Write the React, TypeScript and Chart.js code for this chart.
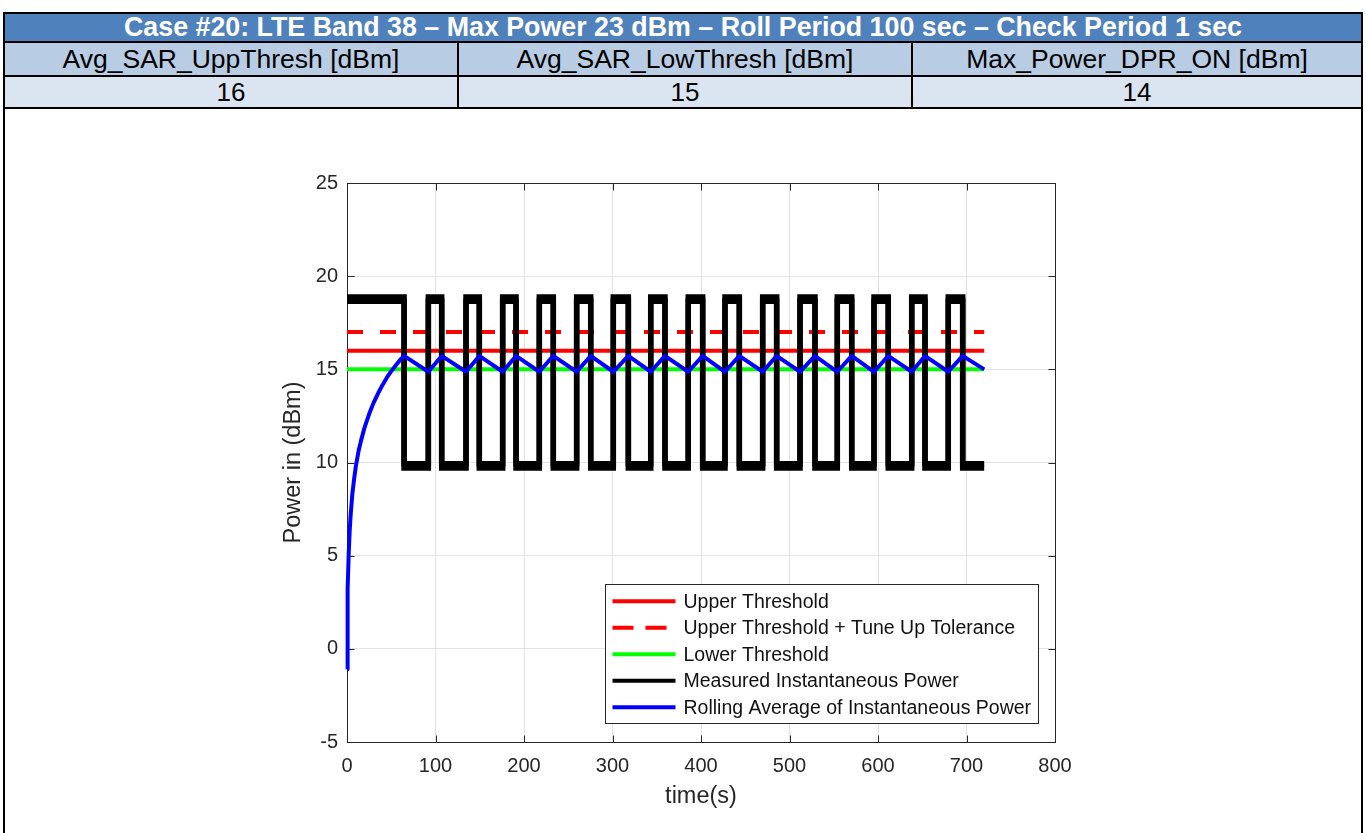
import React, { useEffect, useRef } from "react";
import { Chart, registerables } from "chart.js";

Chart.register(...registerables);

// ---------------- header table ----------------
const TABLE_TITLE =
  "Case #20: LTE Band 38 – Max Power 23 dBm – Roll Period 100 sec – Check Period 1 sec";
const PARAM_NAMES = ["Avg_SAR_UppThresh [dBm]", "Avg_SAR_LowThresh [dBm]", "Max_Power_DPR_ON [dBm]"];
const PARAM_VALUES = ["16", "15", "14"];

// ---------------- axes ----------------
const X_TICKS = [0, 100, 200, 300, 400, 500, 600, 700, 800];
const Y_TICKS = [-5, 0, 5, 10, 15, 20, 25];
const X_LABEL = "time(s)";
const Y_LABEL = "Power in (dBm)";

// ---------------- series ----------------
const END_TIME = 720;
const UPPER_THRESHOLD = 16;
const TUNE_UP_LEVEL = 17;
const LOWER_THRESHOLD = 15;

// measured instantaneous power: square wave, high / low levels (noise band edges)
const POWER_DROP_TIMES = [64.5, 107.0, 149.5, 191.0, 233.1, 275.4, 317.9, 359.3, 401.9, 443.3, 485.5, 528.8, 570.3, 611.6, 653.1, 695.7];
const POWER_RISE_TIMES = [91.9, 134.5, 175.9, 217.3, 259.5, 300.9, 343.2, 385.6, 427.1, 469.7, 511.9, 554.0, 595.5, 638.1, 679.4];
const POWER_HIGH_BAND = [18.66, 18.88];
const POWER_LOW_BAND = [9.7, 9.93];

// rolling average
const AVG_RAMP_TIMES = [0, 0.4, 1, 2, 3, 4, 6, 8, 10, 13, 16, 20, 25, 30, 35, 40, 45, 50, 55, 60];
const AVG_RAMP_VALUES = [-1.1, 1.2, 3.2, 5.2, 6.3, 7.1, 8.3, 9.1, 9.8, 10.6, 11.2, 11.9, 12.6, 13.2, 13.7, 14.15, 14.55, 14.9, 15.2, 15.5];
const AVG_PEAK_VALUE = 15.72;
const AVG_TROUGH_VALUE = 14.87;
const AVG_END_VALUE = 15.0;

const LEGEND_LABELS = [
  "Upper Threshold",
  "Upper Threshold + Tune Up Tolerance",
  "Lower Threshold",
  "Measured Instantaneous Power",
  "Rolling Average of Instantaneous Power",
];

const FONT = '"Liberation Sans", Arial, Helvetica, sans-serif';
const AXIS_COLOR = "#262626";

type Pt = { x: number; y: number };

function transitions() {
  return [
    ...POWER_DROP_TIMES.map((t) => ({ t, up: false })),
    ...POWER_RISE_TIMES.map((t) => ({ t, up: true })),
  ].sort((a, b) => a.t - b.t);
}

function powerTrace(high: number, low: number): Pt[] {
  const pts: Pt[] = [{ x: 0, y: high }];
  for (const e of transitions()) {
    pts.push({ x: e.t, y: e.up ? low : high });
    pts.push({ x: e.t, y: e.up ? high : low });
  }
  pts.push({ x: END_TIME, y: low });
  return pts;
}

function averageTrace(): Pt[] {
  const pts: Pt[] = AVG_RAMP_TIMES.map((t, i) => ({ x: t, y: AVG_RAMP_VALUES[i] }));
  for (const e of transitions()) {
    pts.push({ x: e.t, y: e.up ? AVG_TROUGH_VALUE : AVG_PEAK_VALUE });
  }
  pts.push({ x: END_TIME, y: AVG_END_VALUE });
  return pts;
}

const flat = (v: number): Pt[] => [
  { x: 0, y: v },
  { x: END_TIME, y: v },
];

const boxTicksPlugin = {
  id: "boxTicks",
  beforeDatasetsDraw(chart: any) {
    const { ctx, chartArea, scales } = chart;
    const l = Math.round(chartArea.left) + 0.5;
    const r = Math.round(chartArea.right) + 0.5;
    const t = Math.round(chartArea.top) + 0.5;
    const b = Math.round(chartArea.bottom) + 0.5;
    ctx.save();
    ctx.strokeStyle = AXIS_COLOR;
    ctx.lineWidth = 1;
    ctx.beginPath();
    const len = 7;
    for (const v of X_TICKS) {
      const px = Math.round(scales.x.getPixelForValue(v)) + 0.5;
      ctx.moveTo(px, b);
      ctx.lineTo(px, b - len);
      ctx.moveTo(px, t);
      ctx.lineTo(px, t + len);
    }
    for (const v of Y_TICKS) {
      const py = Math.round(scales.y.getPixelForValue(v)) + 0.5;
      ctx.moveTo(l, py);
      ctx.lineTo(l + len, py);
      ctx.moveTo(r, py);
      ctx.lineTo(r - len, py);
    }
    ctx.stroke();
    ctx.strokeRect(l, t, r - l, b - t);
    ctx.restore();
  },
};

const legendPlugin = {
  id: "matlabLegend",
  afterDatasetsDraw(chart: any) {
    const { ctx, chartArea } = chart;
    const items = chart.data.datasets.filter((d: any) => d.showInLegend);
    ctx.save();
    ctx.font = `19.5px ${FONT}`;
    const textW = Math.max(...items.map((d: any) => ctx.measureText(d.label).width));
    const padL = 7, lineLen = 63, gap = 8, padR = 8, rowH = 26.5, padV = 3.4;
    const w = padL + lineLen + gap + textW + padR;
    const h = rowH * items.length + padV * 2;
    const right = Math.round(chartArea.right - 17) + 0.5;
    const bottom = Math.round(chartArea.bottom - 19) + 0.5;
    const left = Math.round(right - w) + 0.5;
    const top = Math.round(bottom - h) + 0.5;
    ctx.fillStyle = "#ffffff";
    ctx.fillRect(left, top, right - left, bottom - top);
    ctx.strokeStyle = AXIS_COLOR;
    ctx.lineWidth = 1;
    ctx.setLineDash([]);
    ctx.strokeRect(left, top, right - left, bottom - top);
    items.forEach((d: any, i: number) => {
      const y = top + padV + rowH * (i + 0.5);
      ctx.beginPath();
      ctx.setLineDash(d.legendDash || []);
      ctx.strokeStyle = d.borderColor;
      ctx.lineWidth = 4;
      ctx.lineCap = "butt";
      ctx.moveTo(left + padL, y);
      ctx.lineTo(left + padL + lineLen, y);
      ctx.stroke();
      ctx.setLineDash([]);
      ctx.fillStyle = "#111111";
      ctx.textBaseline = "middle";
      ctx.textAlign = "left";
      ctx.fillText(d.label, left + padL + lineLen + gap, y + 1);
    });
    ctx.restore();
  },
};

function PowerChart() {
  const ref = useRef<HTMLCanvasElement | null>(null);
  useEffect(() => {
    if (!ref.current) return;
    const common = { pointRadius: 0, pointHoverRadius: 0, tension: 0, fill: false, clip: false as any };
    const chart = new Chart(ref.current, {
      type: "line",
      data: {
        datasets: [
          {
            ...common,
            label: LEGEND_LABELS[4],
            data: averageTrace(),
            borderColor: "#0000ff",
            borderWidth: 4,
            borderJoinStyle: "round",
            order: 0,
            showInLegend: true,
          } as any,
          {
            ...common,
            label: LEGEND_LABELS[3],
            data: powerTrace(POWER_HIGH_BAND[1], POWER_LOW_BAND[1]),
            borderColor: "#000000",
            borderWidth: 5.5,
            borderJoinStyle: "miter",
            order: 1,
            showInLegend: true,
          } as any,
          {
            ...common,
            label: "_band",
            data: powerTrace(POWER_HIGH_BAND[0], POWER_LOW_BAND[0]),
            borderColor: "#000000",
            borderWidth: 5.5,
            borderJoinStyle: "miter",
            order: 2,
            showInLegend: false,
          } as any,
          {
            ...common,
            label: LEGEND_LABELS[2],
            data: flat(LOWER_THRESHOLD),
            borderColor: "#00ff00",
            borderWidth: 4,
            order: 3,
            showInLegend: true,
          } as any,
          {
            ...common,
            label: LEGEND_LABELS[1],
            data: flat(TUNE_UP_LEVEL),
            borderColor: "#ff0000",
            borderWidth: 4,
            borderDash: [16, 17],
            legendDash: [21, 12],
            order: 4,
            showInLegend: true,
          } as any,
          {
            ...common,
            label: LEGEND_LABELS[0],
            data: flat(UPPER_THRESHOLD),
            borderColor: "#ff0000",
            borderWidth: 4,
            order: 5,
            showInLegend: true,
          } as any,
        ].sort((a: any, b: any) => LEGEND_LABELS.indexOf(a.label) - LEGEND_LABELS.indexOf(b.label)),
      },
      options: {
        animation: false,
        responsive: false,
        devicePixelRatio: 1,
        events: [],
        layout: { padding: { left: 0, top: 53, right: 95, bottom: 0 } },
        plugins: { legend: { display: false }, tooltip: { enabled: false }, title: { display: false } },
        scales: {
          x: {
            type: "linear",
            min: 0,
            max: 800,
            afterBuildTicks: (s: any) => {
              s.ticks = X_TICKS.map((v) => ({ value: v }));
            },
            afterFit: (s: any) => {
              s.height = 88;
            },
            ticks: { color: AXIS_COLOR, font: { family: FONT, size: 20 }, padding: 12, maxRotation: 0 },
            grid: { color: "#e2e2e2", drawTicks: false, lineWidth: 1 },
            border: { display: false },
            title: {
              display: true,
              text: X_LABEL,
              color: AXIS_COLOR,
              font: { family: FONT, size: 23.5 },
              padding: { top: 0, bottom: 19 },
            },
          },
          y: {
            type: "linear",
            min: -5,
            max: 25,
            afterBuildTicks: (s: any) => {
              s.ticks = Y_TICKS.map((v) => ({ value: v }));
            },
            afterFit: (s: any) => {
              s.width = 147;
            },
            ticks: { color: AXIS_COLOR, font: { family: FONT, size: 20 }, padding: 9 },
            grid: { color: "#e2e2e2", drawTicks: false, lineWidth: 1 },
            border: { display: false },
            title: {
              display: true,
              text: Y_LABEL,
              color: AXIS_COLOR,
              font: { family: FONT, size: 23.5 },
              padding: { top: 79, bottom: 0 },
            },
          },
        },
      } as any,
      plugins: [boxTicksPlugin, legendPlugin],
    });
    return () => chart.destroy();
  }, []);
  return (
    <canvas
      ref={ref}
      width={950}
      height={700}
      style={{ position: "absolute", left: 200, top: 130, width: 950, height: 700 }}
    />
  );
}

const cellBase: React.CSSProperties = {
  boxSizing: "border-box",
  textAlign: "center",
  color: "#000",
  fontFamily: FONT,
  overflow: "hidden",
  whiteSpace: "nowrap",
};

const COL_WIDTHS = [454, 454, 448];

export default function App() {
  return (
    <div style={{ position: "absolute", left: 0, top: 0, width: 1366, height: 833, overflow: "hidden", background: "#fff" }}>
      <div
        style={{
          position: "absolute",
          left: 3,
          top: 12,
          width: 1360,
          height: 840,
          border: "2px solid #000",
          boxSizing: "border-box",
        }}
      >
        <div
          style={{
            ...cellBase,
            height: 29,
            lineHeight: "27px",
            background: "#4F81BD",
            borderBottom: "2px solid #000",
            color: "#fff",
            fontWeight: "bold",
            fontSize: 26.8,
          }}
        >
          {TABLE_TITLE}
        </div>
        <div style={{ display: "flex", height: 34, background: "#B8CCE4", borderBottom: "2px solid #000", boxSizing: "border-box" }}>
          {PARAM_NAMES.map((n, i) => (
            <div
              key={n}
              style={{
                ...cellBase,
                width: COL_WIDTHS[i],
                lineHeight: "32px",
                fontSize: 26.5,
                borderRight: i < 2 ? "2px solid #000" : "none",
              }}
            >
              {n}
            </div>
          ))}
        </div>
        <div style={{ display: "flex", height: 32, background: "#DBE5F1", borderBottom: "2px solid #000", boxSizing: "border-box" }}>
          {PARAM_VALUES.map((v, i) => (
            <div
              key={i}
              style={{
                ...cellBase,
                width: COL_WIDTHS[i],
                lineHeight: "30px",
                fontSize: 26,
                borderRight: i < 2 ? "2px solid #000" : "none",
              }}
            >
              {v}
            </div>
          ))}
        </div>
      </div>
      <PowerChart />
    </div>
  );
}
